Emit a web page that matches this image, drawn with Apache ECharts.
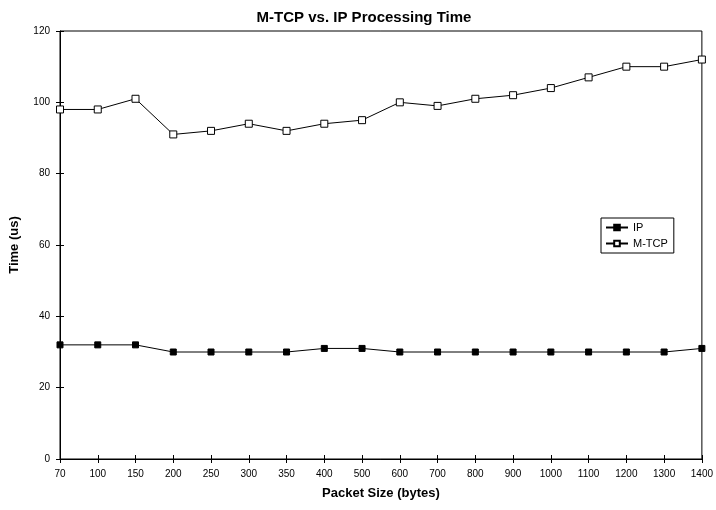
<!DOCTYPE html>
<html><head><meta charset="utf-8">
<script src="https://cdn.jsdelivr.net/npm/echarts@6/dist/echarts.min.js"></script>
<style>html,body{margin:0;padding:0;background:#fff}#c{width:716px;height:510px}</style>
</head><body><div id="c"></div>
<script>
const categories = ['70','100','150','200','250','300','350','400','500','600','700','800','900','1000','1100','1200','1300','1400'];
const ipValues = [32,32,32,30,30,30,30,31,31,30,30,30,30,30,30,30,30,31];
const mtcpValues = [98,98,101,91,92,94,92,94,95,100,99,101,102,104,107,110,110,112];
const yTicks = {min:0, max:120, interval:20};

const font = 'Liberation Sans, Arial, sans-serif';
const chart = echarts.init(document.getElementById('c'), null, {renderer:'canvas'});
const lineAx = {show:true, lineStyle:{color:'#000', width:1}};
chart.setOption({
  animation:false,
  backgroundColor:'#fff',
  title:{text:'M-TCP vs. IP Processing Time', left:359, textAlign:'center', top:5,
    textStyle:{fontFamily:font, fontSize:15, fontWeight:'bold', color:'#000'}},
  grid:{left:53, right:11, top:31, bottom:51, show:true, borderColor:'#000', borderWidth:1, backgroundColor:'transparent'},
  legend:{
    orient:'vertical', left:601, top:218, itemWidth:22, itemHeight:7, itemGap:5,
    padding:[4,6,4,4], borderColor:'#000', borderWidth:1,
    textStyle:{fontFamily:font, fontSize:11, color:'#000'},
    data:['IP','M-TCP']
  },
  xAxis:[{
    type:'category', data:categories, boundaryGap:false,
    name:'Packet Size (bytes)', nameLocation:'middle', nameGap:28,
    nameTextStyle:{fontFamily:font, fontSize:13, fontWeight:'bold', color:'#000'},
    axisLine:lineAx, axisTick:{show:true, alignWithLabel:true, length:4, lineStyle:{color:'#000'}},
    axisLabel:{fontFamily:font, fontSize:10, color:'#000', margin:10, interval:0},
    splitLine:{show:false}
  },{
    type:'category', data:categories, boundaryGap:false, position:'bottom',
    axisLine:{show:false}, axisTick:{show:true, inside:true, length:4, lineStyle:{color:'#000'}},
    axisLabel:{show:false}, splitLine:{show:false}
  }],
  yAxis:[{
    type:'value', min:yTicks.min, max:yTicks.max, interval:yTicks.interval,
    name:'Time (us)', nameLocation:'middle', nameGap:39, nameRotate:90,
    nameTextStyle:{fontFamily:font, fontSize:13, fontWeight:'bold', color:'#000'},
    axisLine:lineAx, axisTick:{show:true, length:4, lineStyle:{color:'#000'}},
    axisLabel:{fontFamily:font, fontSize:10, color:'#000', margin:10},
    splitLine:{show:false}
  },{
    type:'value', min:yTicks.min, max:yTicks.max, interval:yTicks.interval, position:'left',
    axisLine:{show:false}, axisTick:{show:true, inside:true, length:4, lineStyle:{color:'#000'}},
    axisLabel:{show:false}, splitLine:{show:false}
  }],
  series:[{
    name:'IP', type:'line', data:ipValues, symbol:'rect', symbolSize:6,
    lineStyle:{color:'#000', width:1}, itemStyle:{color:'#000', borderColor:'#000', borderWidth:1}
  },{
    name:'M-TCP', type:'line', data:mtcpValues, symbol:'rect', symbolSize:7,
    lineStyle:{color:'#000', width:1}, itemStyle:{color:'#fff', borderColor:'#000', borderWidth:1}
  }]
});
</script></body></html>
